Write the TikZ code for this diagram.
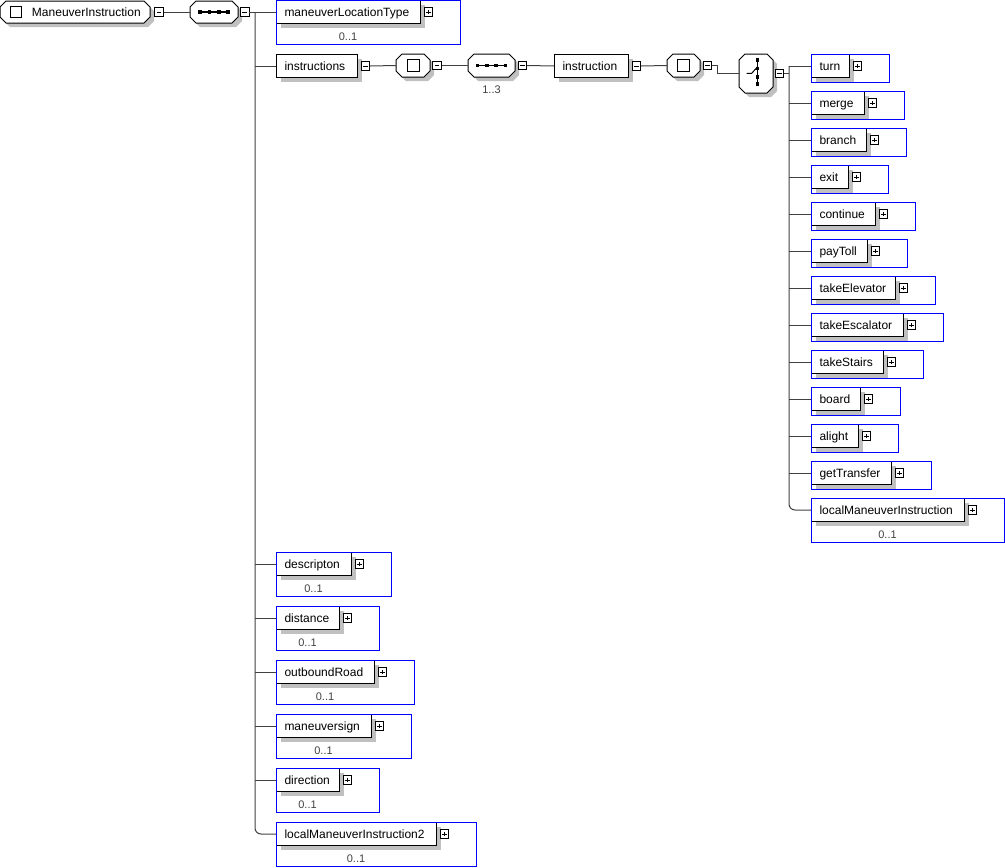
\documentclass[tikz,border=0pt]{standalone}
\usepackage{fontspec}
\setmainfont{Liberation Sans}
\usetikzlibrary{shadows}
\definecolor{lngray}{RGB}{64,64,64}
\definecolor{shgray}{RGB}{192,192,192}
\definecolor{xblue}{RGB}{0,0,255}
\newcommand\lblfont{\fontsize{12}{14}\selectfont}
\newcommand\occfont{\fontsize{11}{13}\selectfont}
\tikzset{
  conn/.style={draw=lngray, line width=1pt},
  shad/.style={drop shadow={shadow xshift=4pt, shadow yshift=-4pt, fill=shgray, opacity=1}},
  elbox/.style={draw=black, fill=white, line width=1pt, minimum height=23pt, inner sep=0pt,
    anchor=north west, font=\lblfont, text height=8.6pt, text depth=0pt, shad},
  outerbox/.style={draw=xblue, line width=1pt},
  octoframe/.style={draw=black, fill=white, line width=1pt},
  octonode/.style={inner sep=0pt, font=\lblfont, text height=8.6pt, text depth=0pt},
  pmbox/.style={draw=black, fill=white, line width=0.9pt, minimum size=8.5pt, inner sep=0pt},
  plusbox/.style={pmbox, path picture={\draw[line width=0.9pt]
    ([xshift=2pt]path picture bounding box.west) -- ([xshift=-2pt]path picture bounding box.east)
    ([yshift=-2pt]path picture bounding box.north) -- ([yshift=2pt]path picture bounding box.south);}},
  minusbox/.style={pmbox, path picture={\draw[line width=0.9pt]
    ([xshift=2pt]path picture bounding box.west) -- ([xshift=-2pt]path picture bounding box.east);}},
  occ/.style={font=\occfont, text=lngray, inner sep=0pt},
}
% octagon outline: cx, cy, w, h, corner
\newcommand\octpath[5]{(#1-#3/2+#5,#2-#4/2) -- (#1+#3/2-#5,#2-#4/2) -- (#1+#3/2,#2-#4/2+#5)
  -- (#1+#3/2,#2+#4/2-#5) -- (#1+#3/2-#5,#2+#4/2) -- (#1-#3/2+#5,#2+#4/2)
  -- (#1-#3/2,#2+#4/2-#5) -- (#1-#3/2,#2-#4/2+#5) -- cycle}
% octagon node: name, cx, cy, w, h, text
\newcommand\octo[6]{%
  \fill[shgray, shift={(4,4)}] \octpath{#2}{#3}{#4}{#5}{6};
  \path[octoframe] \octpath{#2}{#3}{#4}{#5}{6};
  \node[octonode, minimum width=#4pt, minimum height=#5pt] (#1) at (#2,#3) {#6};
}
\newcommand\reqel[5]{%
  \node[elbox] (#1) at (#2,#3) {\makebox[#4pt][l]{\hspace{8pt}#5}};
  \node[plusbox] (#1p) at ([xshift=7.5pt]#1.east) {};
  \draw[outerbox] (#2,#3) rectangle (#2+#4+40,#3+28);
}
\newcommand\optel[5]{%
  \node[elbox] (#1) at (#2,#3) {\makebox[#4pt][l]{\hspace{8pt}#5}};
  \node[plusbox] (#1p) at ([xshift=7.5pt]#1.east) {};
  \node[occ] (#1o) at (#2+#4/2,#3+37) {0..1};
  \draw[outerbox] (#2,#3) rectangle (#2+#4+40,#3+44);
}
\newcommand\bareel[5]{%
  \node[elbox] (#1) at (#2,#3) {\makebox[#4pt][l]{\hspace{8pt}#5}};
  \node[minusbox] (#1m) at ([xshift=7.5pt]#1.east) {};
}
\newcommand\seqsym[2]{%
  \draw[line width=1.2pt] (#1-15,#2) -- (#1+15,#2);
  \foreach \dd in {-14,-4.7,4.7,14} {\fill (#1+\dd-1.8,#2-1.8) rectangle (#1+\dd+1.8,#2+1.8);}
}
\newcommand\allsym[2]{\draw[line width=1pt] (#1-6,#2-6) rectangle (#1+6,#2+6);}
\begin{document}
\begin{tikzpicture}[x=1pt,y=-1pt]
\useasboundingbox (0,0) rectangle (1005,868);
% root
\octo{root}{75}{12}{150}{22}{\makebox[150pt][l]{\hspace{32pt}ManeuverInstruction}}
\draw[line width=1pt] (10,6) rectangle (21,17);
\node[minusbox] (rootm) at (159,12) {};
\octo{seq1}{214}{12}{48}{22}{}
\seqsym{214}{12}
\node[minusbox] (seq1m) at (244.7,12) {};
\draw[conn] (rootm.east) -- (seq1.west);
\coordinate (bus1) at (255,0);
\draw[conn] (seq1m.east) -- (bus1 |- seq1m.east);
% left children
\optel{mlt}{276}{0}{144}{maneuverLocationType}
\bareel{instrs}{276}{54}{81}{instructions}
\optel{descr}{276}{552}{75}{descripton}
\optel{dist}{276}{606}{63}{distance}
\optel{outb}{276}{660}{98}{outboundRoad}
\optel{msign}{276}{714}{95}{maneuversign}
\optel{dir}{276}{768}{63}{direction}
\optel{lmitwo}{276}{822}{160}{localManeuverInstruction2}
\foreach \n in {mlt,instrs,descr,dist,outb,msign,dir} {\draw[conn] (bus1 |- \n.west) -- (\n.west);}
\draw[conn, rounded corners=6pt] (bus1 |- seq1m.east) |- (lmitwo.west);
% chain
\octo{all1}{413}{65.5}{34}{23}{}
\allsym{413}{65.5}
\node[minusbox] (all1m) at (437,65.5) {};
\draw[conn] (instrsm.east) -- (all1.west);
\octo{seq2}{491.5}{65.5}{47}{23}{}
\seqsym{491.5}{65.5}
\node[occ] (seq2o) at (491.5,90) {1..3};
\node[minusbox] (seq2m) at (522.5,65.5) {};
\draw[conn] (all1m.east) -- (seq2.west);
\bareel{instr}{554}{54}{74}{instruction}
\draw[conn] (seq2m.east) -- (instr.west);
\octo{all2}{683.5}{65.5}{33}{23}{}
\allsym{683.5}{65.5}
\node[minusbox] (all2m) at (707.5,65.5) {};
\draw[conn] (instrm.east) -- (all2.west);
\octo{choice}{756}{73.5}{34}{39}{}
\draw[line width=1.2pt] (757.3,59) -- (757.3,85.5);
\foreach \yy in {60,68.3,76.7,84} {\fill (755.5,\yy-1.8) rectangle (759.1,\yy+1.8);}
\draw[line width=1pt] (746.7,73.3) -- (751.7,73.3) -- (757.3,67);
\node[minusbox] (chm) at (779.5,73.5) {};
\coordinate (elb) at (717,0);
\draw[conn] (all2m.east) -- (elb |- all2m.east) -- (elb |- choice.west) -- (choice.west);
\coordinate (bus2) at (789,0);
\draw[conn] (chm.east) -- (bus2 |- chm.east);
% right children
\reqel{turn}{811}{54}{38}{turn}
\reqel{merge}{811}{91}{53}{merge}
\reqel{branch}{811}{128}{55}{branch}
\reqel{exit}{811}{165}{37}{exit}
\reqel{cont}{811}{202}{64}{continue}
\reqel{paytoll}{811}{239}{56}{payToll}
\reqel{televator}{811}{276}{84}{takeElevator}
\reqel{tescal}{811}{313}{92}{takeEscalator}
\reqel{tstairs}{811}{350}{72}{takeStairs}
\reqel{board}{811}{387}{49}{board}
\reqel{alight}{811}{424}{47}{alight}
\reqel{gettr}{811}{461}{80}{getTransfer}
\optel{lmi}{811}{498}{153}{localManeuverInstruction}
\foreach \n in {turn,merge,branch,exit,cont,paytoll,televator,tescal,tstairs,board,alight,gettr}
  {\draw[conn] (bus2 |- \n.west) -- (\n.west);}
\draw[conn, rounded corners=6pt] (bus2 |- turn.west) |- (lmi.west);
\end{tikzpicture}
\end{document}
